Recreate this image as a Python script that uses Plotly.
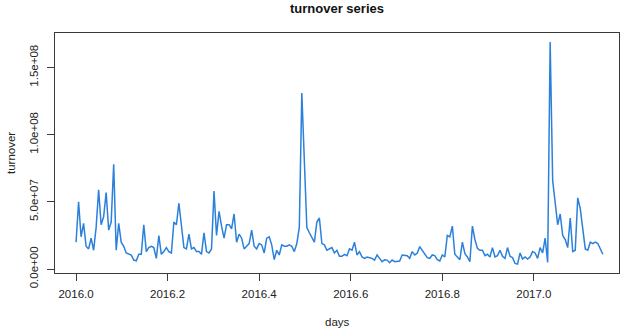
import numpy as np
import plotly.graph_objects as go

# turnover values (units of 1e7), sampled every 2 days starting 2016.0
turnover_1e7 = [
    2.0, 5.0, 2.4, 3.4, 1.7, 1.5, 2.3, 1.4, 3.1, 5.9,
    3.3, 3.9, 5.7, 2.9, 3.5, 7.8, 1.4, 3.4, 2.0, 1.7,
    1.2, 1.1, 1.05, 0.67, 0.62, 1.1, 1.1, 3.3, 1.3, 1.6,
    1.7, 1.6, 0.8, 2.5, 1.1, 1.3, 1.6, 1.3, 1.2, 3.5,
    3.3, 4.9, 3.2, 1.6, 1.5, 2.6, 1.5, 1.6, 1.3, 1.3,
    1.1, 2.7, 1.3, 1.2, 1.5, 5.8, 2.5, 4.3, 3.2, 2.3,
    3.3, 3.3, 3.0, 4.1, 2.0, 2.6, 2.3, 1.5, 1.7, 1.9,
    2.9, 1.7, 1.5, 1.9, 1.8, 1.2, 2.3, 2.4, 1.8, 0.7,
    1.4, 1.05, 1.8, 1.7, 1.7, 1.8, 1.7, 1.3, 1.9, 3.1,
    13.1, 7.5, 3.1, 2.7, 2.3, 2.0, 3.5, 3.8, 1.9, 1.8,
    1.4, 1.5, 1.6, 1.2, 1.4, 0.95, 0.95, 1.1, 1.0, 1.5,
    1.4, 2.0, 1.05, 1.3, 0.9, 0.8, 0.9, 0.85, 0.8, 0.67,
    1.05, 0.8, 0.55, 0.7, 0.67, 0.47, 0.67, 0.55, 0.55, 0.6,
    1.05, 1.0, 1.0, 0.8, 1.3, 1.05, 1.17, 1.67, 1.4, 1.2,
    0.85, 0.8, 1.05, 1.0, 0.7, 0.6, 1.05, 0.9, 2.5, 2.4,
    3.2, 1.1, 0.9, 0.7, 2.0, 1.17, 0.9, 0.55, 3.2, 2.2,
    1.55, 1.4, 1.4, 1.0, 1.1, 0.9, 1.6, 0.9, 1.0, 1.4,
    0.95, 0.8, 1.6, 0.95, 0.85, 0.42, 0.37, 1.2, 0.75, 0.9,
    0.75, 0.9, 1.3, 1.2, 0.8, 1.6, 1.2, 2.3, 0.5, 16.9,
    6.6, 5.1, 3.3, 4.1, 2.5, 2.2, 1.6, 3.8, 1.3, 1.4,
    5.3, 4.5, 3.0, 1.5, 1.4, 2.0, 1.9, 2.0, 1.9, 1.5,
    1.1,
]
step_days = 2
x_tick_vals = [2016.0, 2016.2, 2016.4, 2016.6, 2016.8, 2017.0]
x_tick_text = ["2016.0", "2016.2", "2016.4", "2016.6", "2016.8", "2017.0"]
y_tick_vals = [0, 5e7, 1e8, 1.5e8]
y_tick_text = ["0.0e+00", "5.0e+07", "1.0e+08", "1.5e+08"]

y = np.array(turnover_1e7) * 1e7
x = 2016 + np.arange(len(y)) * step_days / 365.0

# axis ranges with R-style padding
yr = y.max() - y.min()
x_range = [2015.954, 2017.186]
y_range = [y.min() - 0.04 * yr, y.max() + 0.04 * yr]

FONT = "Liberation Sans, Arial, Helvetica, sans-serif"
AX = "#3a3a3a"

fig = go.Figure()
fig.add_trace(go.Scatter(x=x, y=y, mode="lines",
                         line=dict(color="#2A80DA", width=1.5),
                         hoverinfo="skip", showlegend=False))

fig.update_layout(
    width=623, height=331,
    margin=dict(l=55, r=4, t=33, b=58, pad=0),
    paper_bgcolor="white", plot_bgcolor="white",
    font=dict(family=FONT, size=11.5, color="#222"),
    title=dict(text="<b>turnover series</b>", x=0.5, xref="paper",
               y=1 - 8 / 331, yref="container", yanchor="middle",
               xanchor="center", font=dict(size=13, color="#111")),
    xaxis=dict(range=x_range, tickmode="array", tickvals=x_tick_vals,
               ticktext=x_tick_text, ticks="outside", ticklen=7,
               tickcolor=AX, showline=True, linecolor=AX, linewidth=1,
               mirror=True, showgrid=False, zeroline=False,
               ticklabelstandoff=3),
    yaxis=dict(range=y_range, tickmode="array", tickvals=y_tick_vals,
               ticktext=y_tick_text, ticks="outside", ticklen=7,
               tickcolor=AX, showline=True, linecolor=AX, linewidth=1,
               mirror=True, showgrid=False, zeroline=False, tickangle=-90,
               ticklabelstandoff=4),
    annotations=[
        dict(text="days", xref="paper", yref="paper", x=0.5, y=0,
             yshift=-49, showarrow=False, yanchor="middle",
             font=dict(size=11.5, color="#222")),
        dict(text="turnover", xref="paper", yref="paper", x=0, y=0.5,
             xshift=-44, showarrow=False, textangle=-90, xanchor="center",
             yanchor="middle", font=dict(size=11.5, color="#222")),
    ],
)

fig.write_html("out.html",
               config={"displayModeBar": False, "staticPlot": True},
               post_script="document.body.style.margin='0';document.body.style.overflow='hidden';")
